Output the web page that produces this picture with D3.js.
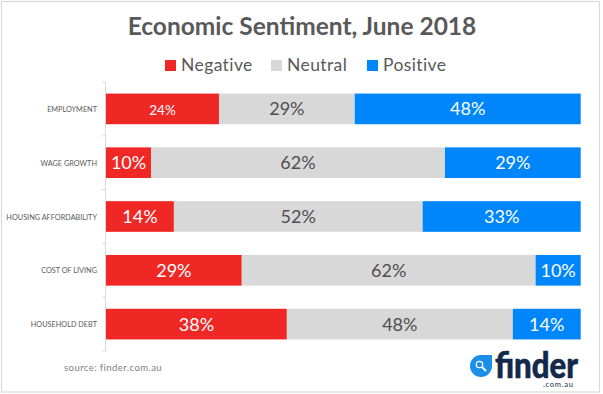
<!DOCTYPE html>
<html>
<head>
<meta charset="utf-8">
<script src="https://cdn.jsdelivr.net/npm/d3@7"></script>
<style>
  html, body { margin: 0; padding: 0; background: #fff; }
  svg { display: block; font-family: Lato, "Open Sans", sans-serif; }
</style>
</head>
<body>
<svg id="chart" width="603" height="394"></svg>
<script>
// Tick labels and series, top row first
const categories = ['EMPLOYMENT', 'WAGE GROWTH', 'HOUSING AFFORDABILITY', 'COST OF LIVING', 'HOUSEHOLD DEBT'];
const seriesNames = ['Negative', 'Neutral', 'Positive'];
const negative = [23.8, 9.5, 14.3, 28.6, 38.1];
const neutral = [28.6, 61.9, 52.4, 61.9, 47.6];
const positive = [47.6, 28.6, 33.3, 9.5, 14.3];
const seriesColors = ['#ef2826', '#d8d8d8', '#0086fb'];
const labelColors = ['#fff', '#4f4f4f', '#fff'];

const rows = categories.map((c, i) => ({
    category: c,
    Negative: negative[i],
    Neutral: neutral[i],
    Positive: positive[i]
}));

const svg = d3.select('#chart');

// Outer frame
svg.append('rect')
    .attr('x', 1.5).attr('y', 1.5)
    .attr('width', 598).attr('height', 390.5)
    .attr('fill', '#fff')
    .attr('stroke', '#d9d9d9')
    .attr('stroke-width', 1.2);

svg.append('text')
    .attr('x', 302).attr('y', 34.5)
    .attr('text-anchor', 'middle')
    .attr('font-size', 24.5)
    .attr('font-weight', 700)
    .attr('fill', '#595959')
    .text('Economic Sentiment, June 2018');

// Legend
const legendX = d3.scaleOrdinal().domain(seriesNames).range([165, 271, 367]);
const legend = svg.append('g').selectAll('g')
    .data(seriesNames)
    .join('g')
    .attr('transform', d => `translate(${legendX(d)},60)`);
legend.append('rect')
    .attr('width', 11).attr('height', 11)
    .attr('fill', (d, i) => seriesColors[i]);
legend.append('text')
    .attr('x', 16).attr('y', 11)
    .attr('font-size', 17.5)
    .attr('letter-spacing', 0.4)
    .attr('fill', '#595959')
    .text(d => d);

// Scales
const xScale = d3.scaleLinear().domain([0, 100]).range([106, 580.7]);
const yScale = d3.scaleBand().domain(categories).range([82, 351]).paddingInner(0.43).paddingOuter(0.215);
const colorScale = d3.scaleOrdinal().domain(seriesNames).range(seriesColors);

const stacked = d3.stack().keys(seriesNames)(rows);

const layers = svg.append('g').selectAll('g')
    .data(stacked)
    .join('g')
    .attr('fill', d => colorScale(d.key));
layers.selectAll('rect')
    .data(d => d)
    .join('rect')
    .attr('x', d => xScale(d[0]))
    .attr('y', d => yScale(d.data.category))
    .attr('width', d => xScale(d[1]) - xScale(d[0]))
    .attr('height', yScale.bandwidth());
layers.each(function(s, si) {
    d3.select(this).selectAll('text')
        .data(s)
        .join('text')
        .attr('x', d => (xScale(d[0]) + xScale(d[1])) / 2)
        .attr('y', d => yScale(d.data.category) + yScale.bandwidth() / 2 + 6.5)
        .attr('text-anchor', 'middle')
        .attr('font-size', d => d.data.category === 'EMPLOYMENT' && si === 0 ? 13.5 : 18)
        .attr('fill', labelColors[si])
        .text(d => Math.round(d[1] - d[0]) + '%');
});

// Category axis: ticks sit between the bands
const axisG = svg.append('g');
const tickYs = d3.range(categories.length + 1).map(i => yScale.range()[0] + i * yScale.step());
axisG.append('line')
    .attr('x1', 105.5).attr('x2', 105.5)
    .attr('y1', tickYs[0]).attr('y2', tickYs[tickYs.length - 1])
    .attr('stroke', '#d9d9d9');
axisG.selectAll('line.tick')
    .data(tickYs)
    .join('line')
    .attr('class', 'tick')
    .attr('x1', 102).attr('x2', 105.5)
    .attr('y1', d => d).attr('y2', d => d)
    .attr('stroke', '#d9d9d9');
axisG.selectAll('text')
    .data(categories)
    .join('text')
    .attr('x', 97)
    .attr('y', d => yScale(d) + yScale.bandwidth() / 2 + 3)
    .attr('text-anchor', 'end')
    .attr('font-size', 7.3)
    .attr('fill', '#595959')
    .text(d => d);

svg.append('text')
    .attr('x', 64).attr('y', 371)
    .attr('font-size', 9.6)
    .attr('letter-spacing', 0.4)
    .attr('fill', '#7f7f7f')
    .text('source: finder.com.au');

// finder logo
const logo = svg.append('g');
logo.append('path')
    .attr('d', 'M492 355 H481 A11 11 0 1 0 492 366 Z')
    .attr('fill', '#1b8fe8');
logo.append('circle').attr('cx', 479.5).attr('cy', 364.5).attr('r', 3.2)
    .attr('fill', 'none').attr('stroke', '#fff').attr('stroke-width', 1.3);
logo.append('line').attr('x1', 482).attr('y1', 367).attr('x2', 486).attr('y2', 371)
    .attr('stroke', '#fff').attr('stroke-width', 1.8);
logo.append('text')
    .attr('x', 495).attr('y', 378)
    .attr('font-size', 36)
    .attr('font-weight', 900)
    .attr('textLength', 83)
    .attr('lengthAdjust', 'spacingAndGlyphs')
    .attr('fill', '#12294a')
    .attr('stroke', '#12294a')
    .attr('stroke-width', 0.6)
    .text('finder');
logo.append('text')
    .attr('x', 543).attr('y', 386.5)
    .attr('font-size', 7.5)
    .attr('textLength', 30)
    .attr('fill', '#12294a')
    .text('.com.au');
</script>
</body>
</html>
